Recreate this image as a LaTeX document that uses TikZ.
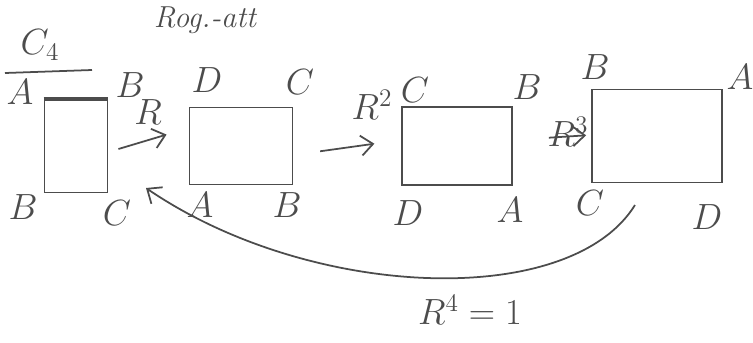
\documentclass[tikz,border=0pt]{standalone}
\usepackage{amsmath, amssymb}
\usepackage{tikz}
\usepackage{xcolor}
\usetikzlibrary{arrows.meta}
\definecolor{pencil}{gray}{0.3}
\tikzset{
  sq/.style={draw=pencil, line width=1pt, inner sep=0pt},
  corner/.style={text=pencil, font=\huge},
  arr/.style={-{Straight Barb[length=2.4mm,width=4mm]}, draw=pencil, line width=1pt}
}

\begin{document}
\begin{tikzpicture}[x=0.2mm, y=-0.2mm]
  \useasboundingbox (0,0) rectangle (753,342);
  \node[corner] (title) at (40,45) {$C_4$};
  \draw[pencil, line width=1pt] (5,73) -- (92,70);
  \node[text=pencil, font=\LARGE\itshape] (note) at (205,20) {Rog.-att};
  % the four squares
  \node[sq, minimum width=12.6mm, minimum height=18.6mm] (sqa) at (76,146) {};
  \draw[pencil, line width=2.2pt] (sqa.north west) -- (sqa.north east);
  \node[sq, minimum width=20.6mm, minimum height=15.4mm] (sqb) at (241,146) {};
  \node[sq, minimum width=22mm, minimum height=15.6mm] (sqc) at (457,146) {};
  \node[sq, minimum width=26mm, minimum height=18.6mm] (sqd) at (657,136) {};
  % corners
  \node[corner] (a1) at (20,92) {$A$};   \node[corner] (b1) at (130,85) {$B$};
  \node[corner] (b2) at (23,207) {$B$};  \node[corner] (c1) at (117,213) {$C$};
  \node[corner] (d2) at (207,80) {$D$};  \node[corner] (c2) at (300,82) {$C$};
  \node[corner] (a2) at (200,205) {$A$}; \node[corner] (b3) at (287,205) {$B$};
  \node[corner] (c3) at (415,90) {$C$};  \node[corner] (b4) at (527,87) {$B$};
  \node[corner] (d3) at (408,213) {$D$}; \node[corner] (a3) at (510,210) {$A$};
  \node[corner] (b5) at (595,67) {$B$};  \node[corner] (a4) at (740,77) {$A$};
  \node[corner] (c4) at (590,203) {$C$}; \node[corner] (d4) at (707,217) {$D$};
  % rotations
  \draw[arr, shorten <=2.1mm, shorten >=4.6mm] ([yshift=-1.2mm]sqa.east) -- ([yshift=3.6mm]sqb.west);
  \node[corner] (r1) at (148,112) {$R$};
  \draw[arr, shorten <=5.4mm, shorten >=5.4mm] ([yshift=-1.8mm]sqb.east) -- ([yshift=1.2mm]sqc.west);
  \node[corner] (r2) at (372,105) {$R^2$};
  \draw[arr, shorten <=7.2mm, shorten >=1mm] ([yshift=1.2mm]sqc.east) -- ([yshift=0.2mm]sqd.west);
  \node[corner] (r3) at (568,132) {$R^3$};
  \coordinate (backfrom) at (635,205);
  \coordinate (backto) at (146,188);
  \draw[arr] (backfrom) .. controls (570,310) and (310,300) .. (backto);
  \node[corner] (r4) at (470,310) {$R^4=1$};
\end{tikzpicture}
\end{document}
